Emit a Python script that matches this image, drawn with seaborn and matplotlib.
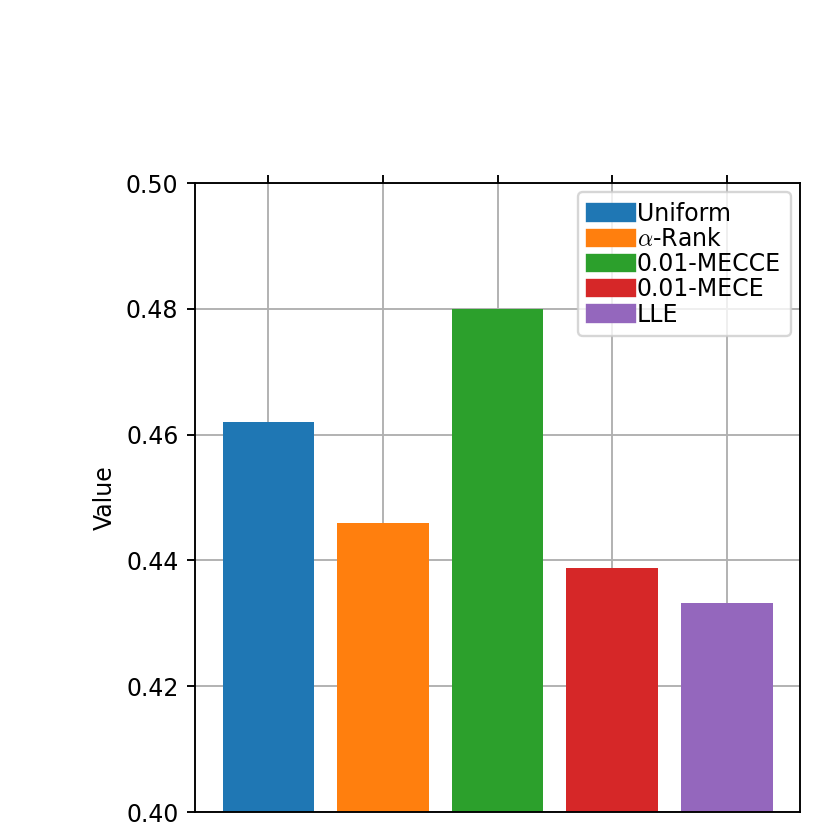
import matplotlib
matplotlib.use("Agg")
import matplotlib.pyplot as plt
import seaborn as sns
import pandas as pd

methods = ["Uniform", r"$\alpha$-Rank", "0.01-MECCE", "0.01-MECE", "LLE"]
values = [0.4620, 0.4459, 0.4800, 0.4388, 0.4332]
colors = ["#1f77b4", "#ff7f0e", "#2ca02c", "#d62728", "#9467bd"]

plt.style.use("default")
plt.rcParams["font.family"] = ["DejaVu Sans"]
plt.rcParams["mathtext.fontset"] = "cm"

df = pd.DataFrame({"method": methods, "value": values})

DPI = 170
fig = plt.figure(figsize=(830 / DPI, 830 / DPI), dpi=DPI)
ax = fig.add_axes([195/830, 1-812/830, (800-195)/830, (812-183)/830])
sns.barplot(data=df, x="method", y="value", hue="method", palette=colors,
            dodge=False, width=0.8, legend=False, ax=ax, saturation=1)
ax.set_ylim(0.40, 0.50)
ax.set_xlim(-0.64, 4.64)
ax.set_yticks([0.40, 0.42, 0.44, 0.46, 0.48, 0.50])
ax.set_ylabel("Value")
ax.set_xlabel("")
ax.xaxis.tick_top()
ax.tick_params(axis="x", labeltop=False, labelbottom=False)
ax.grid(True)
ax.set_axisbelow(True)
handles = [plt.Rectangle((0, 0), 1, 1, color=c) for c in colors]
ax.legend(handles, methods, loc="upper right", handletextpad=0.1,
          labelspacing=0.05, borderaxespad=0.4)
fig.savefig("out.png", dpi=DPI)
